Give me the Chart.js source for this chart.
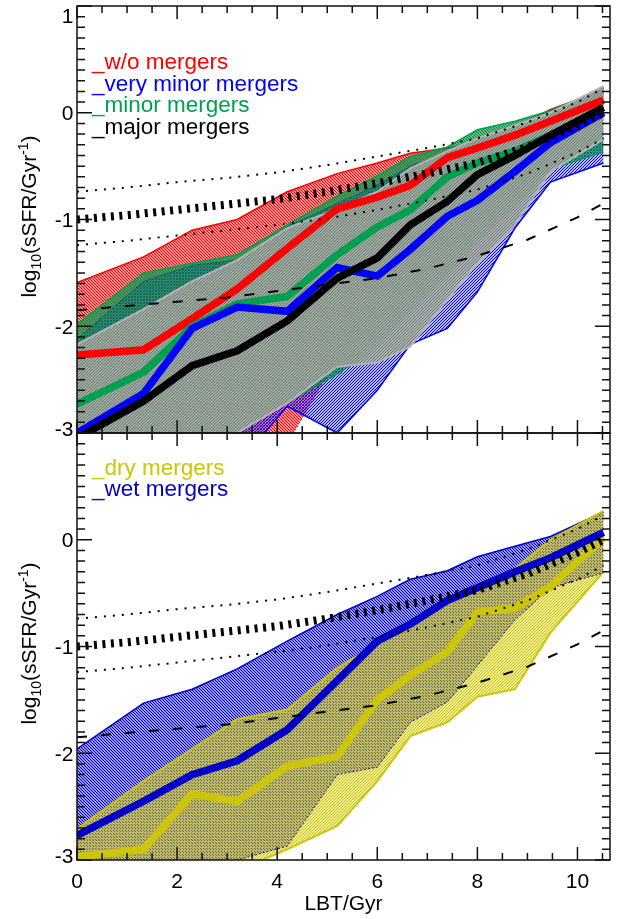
<!DOCTYPE html>
<html>
<head>
<meta charset="utf-8">
<title>sSFR vs lookback time</title>
<script src="https://cdn.jsdelivr.net/npm/chart.js@4.4.1/dist/chart.umd.min.js"></script>
<style>
  html, body { margin: 0; padding: 0; background: #fff; }
  #wrap { position: relative; width: 627px; height: 919px; }
  #wrap canvas { position: absolute; left: 0; top: 0; }
</style>
</head>
<body>
<div id="wrap">
  <canvas id="topChart" width="627" height="919"></canvas>
  <canvas id="bottomChart" width="627" height="919"></canvas>
</div>
<script>
// lookback time of the bins (Gyr)
const lbt = [0, 1.33, 2.3, 3.2, 4.2, 5.2, 6.0, 6.66, 7.4, 8.0, 8.75, 9.46, 10.52];

// main sequence reference curves (own grid)
const msLbt    = [0, 1, 2, 3, 4, 5, 6, 7, 8, 9, 10, 10.52];
const msUpper  = [-0.74, -0.70, -0.65, -0.61, -0.56, -0.49, -0.41, -0.33, -0.24, -0.09, 0.10, 0.23];
const msMedian = [-1.00, -0.96, -0.91, -0.86, -0.81, -0.74, -0.66, -0.57, -0.47, -0.32, -0.12, 0.00];
const msLower  = [-1.24, -1.20, -1.15, -1.10, -1.05, -0.99, -0.91, -0.82, -0.72, -0.57, -0.37, -0.24];
const msDashed = [-1.85, -1.81, -1.77, -1.73, -1.67, -1.61, -1.55, -1.46, -1.34, -1.19, -0.98, -0.85];

// top panel medians
const medNone  = [-2.27, -2.22, -1.93, -1.65, -1.27, -0.90, -0.79, -0.68, -0.42, -0.33, -0.21, -0.08, 0.12];
const medMinor = [-2.73, -2.43, -2.00, -1.79, -1.72, -1.33, -1.07, -0.91, -0.60, -0.47, -0.36, -0.21, 0.01];
const medVery  = [-3.00, -2.63, -2.02, -1.82, -1.86, -1.45, -1.53, -1.28, -0.97, -0.82, -0.55, -0.28, 0.00];
const medMajor = [-3.05, -2.70, -2.37, -2.23, -1.95, -1.55, -1.36, -1.05, -0.83, -0.58, -0.40, -0.21, 0.05];

// top panel envelopes
const upNone   = [-1.59, -1.35, -1.10, -1.00, -0.74, -0.57, -0.47, -0.38, -0.33, -0.28, -0.14, 0.03, 0.21];
const loNone   = [-3.5, -3.5, -3.5, -3.4, -3.1, -2.30, -1.66, -1.52, -1.06, -0.72, -0.40, -0.17, 0.00];
const upMinor  = [-1.98, -1.50, -1.41, -1.33, -1.05, -0.78, -0.59, -0.41, -0.32, -0.16, -0.08, 0.02, 0.23];
const loMinor  = [-3.5, -3.5, -3.5, -3.0, -2.72, -2.45, -2.20, -1.85, -1.53, -1.20, -0.88, -0.53, -0.37];
const upVery   = [-2.12, -1.58, -1.43, -1.38, -1.07, -0.85, -0.68, -0.50, -0.38, -0.24, -0.13, -0.02, 0.18];
const loVery   = [-3.5, -3.5, -3.5, -3.3, -2.75, -3.00, -2.60, -2.17, -2.02, -1.68, -1.08, -0.65, -0.47];
const upMajor  = [-2.17, -1.84, -1.58, -1.38, -1.08, -0.90, -0.74, -0.52, -0.36, -0.24, -0.12, 0.00, 0.25];
const loMajor  = [-3.5, -3.5, -3.5, -3.0, -2.72, -2.38, -2.34, -2.19, -1.75, -1.41, -1.05, -0.55, -0.25];

// bottom panel
const medWet = [-2.77, -2.45, -2.20, -2.07, -1.78, -1.32, -0.95, -0.79, -0.57, -0.45, -0.30, -0.17, 0.07];
const medDry = [-2.97, -2.90, -2.38, -2.45, -2.12, -2.03, -1.50, -1.27, -1.05, -0.68, -0.64, -0.44, 0.02];
const upWet  = [-1.96, -1.53, -1.40, -1.21, -0.95, -0.70, -0.53, -0.37, -0.29, -0.16, -0.06, 0.03, 0.26];
const loWet  = [-3.1, -3.1, -3.1, -3.0, -2.87, -2.20, -2.13, -1.71, -1.52, -1.18, -0.75, -0.45, -0.31];
const upDry  = [-2.71, -2.26, -1.96, -1.68, -1.59, -1.20, -0.98, -0.80, -0.60, -0.48, -0.27, 0.00, 0.27];
const loDry  = [-3.1, -3.1, -3.1, -3.1, -2.90, -2.68, -2.26, -1.84, -1.71, -1.47, -1.40, -0.87, -0.30];

// ticks
const xTicks = [0, 2, 4, 6, 8, 10];
const yTicksTop = [1, 0, -1, -2, -3];
const yTicksBottom = [0, -1, -2, -3];

const FONT = '21px "Liberation Sans", Arial, Helvetica, sans-serif';
const LEGEND_FONT = '22.5px "Liberation Sans", Arial, Helvetica, sans-serif';
const SMALL = '14px "Liberation Sans", Arial, Helvetica, sans-serif';

function pts(xs, ys) {
    return xs.map((x, i) => ({ x: x, y: ys[i] }));
}

// small tile with one diagonal line, used as hatch fill
function hatch(fg, bg, flip) {
    const c = document.createElement('canvas');
    c.width = 3; c.height = 3;
    const g = c.getContext('2d');
    g.fillStyle = bg;
    g.fillRect(0, 0, 3, 3);
    g.fillStyle = fg;
    for (let i = 0; i < 3; i++) g.fillRect(i, flip ? 2 - i : i, 1, 1);
    return g.createPattern(c, 'repeat');
}

function line(xs, ys, color, width, order, extra) {
    return Object.assign({
        data: pts(xs, ys),
        borderColor: color,
        borderWidth: width,
        pointRadius: 0,
        fill: false,
        tension: 0,
        clip: 0,
        order: order
    }, extra || {});
}

function refCurves() {
    return [
        line(msLbt, msUpper, '#000', 2, 0, { borderDash: [2, 7] }),
        line(msLbt, msMedian, '#000', 8, 1, { borderDash: [3, 5.5] }),
        line(msLbt, msLower, '#000', 2, 2, { borderDash: [2, 7] }),
        line(msLbt, msDashed, '#000', 2, 3, { borderDash: [10, 14] })
    ];
}

function drawYTitle(ctx, cx, cy) {
    const parts = [['log', FONT, 0], ['10', SMALL, 5], ['(sSFR/Gyr', FONT, 0], ['-1', SMALL, -8], [')', FONT, 0]];
    ctx.save();
    ctx.translate(cx, cy);
    ctx.rotate(-Math.PI / 2);
    let w = 0;
    parts.forEach(p => { ctx.font = p[1]; w += ctx.measureText(p[0]).width; });
    let x = -w / 2;
    ctx.textAlign = 'left';
    ctx.textBaseline = 'alphabetic';
    parts.forEach(p => {
        ctx.font = p[1];
        ctx.fillText(p[0], x, p[2]);
        x += ctx.measureText(p[0]).width;
    });
    ctx.restore();
}

// box, inward ticks, labels and legend text
const framePlugin = {
    id: 'frame',
    afterDraw(chart, args, opts) {
        const ctx = chart.ctx, a = chart.chartArea;
        const xs = chart.scales.x, ys = chart.scales.y;
        ctx.save();
        ctx.strokeStyle = '#111';
        ctx.lineWidth = 1.5;
        ctx.beginPath();
        for (let k = 0; k * 0.5 <= xs.max; k++) {
            const px = xs.getPixelForValue(k * 0.5);
            const len = (k % 4 === 0) ? 13 : 7;
            ctx.moveTo(px, a.bottom); ctx.lineTo(px, a.bottom - len);
            ctx.moveTo(px, a.top); ctx.lineTo(px, a.top + len);
        }
        for (let k = -30; k <= 10; k++) {
            const py = ys.getPixelForValue(k / 10);
            const len = (k % 10 === 0) ? 15 : 8;
            ctx.moveTo(a.left, py); ctx.lineTo(a.left + len, py);
            ctx.moveTo(a.right, py); ctx.lineTo(a.right - len, py);
        }
        ctx.stroke();
        ctx.strokeRect(a.left, a.top, a.right - a.left, a.bottom - a.top);

        ctx.fillStyle = '#000';
        ctx.font = FONT;
        ctx.textAlign = 'right';
        ctx.textBaseline = 'alphabetic';
        opts.yTicks.forEach(v => {
            let py = ys.getPixelForValue(v);
            py = Math.min(Math.max(py, a.top + 9), a.bottom - 5);
            ctx.fillText(String(v), a.left - 3.5, py + 7.5);
        });
        if (opts.xAxis) {
            ctx.textAlign = 'center';
            xTicks.forEach(v => ctx.fillText(String(v), xs.getPixelForValue(v), a.bottom + 28));
            ctx.fillText('LBT/Gyr', (a.left + a.right) / 2, a.bottom + 50);
        }
        drawYTitle(ctx, 36, (a.top + a.bottom) / 2 - 3);

        ctx.textAlign = 'left';
        ctx.font = LEGEND_FONT;
        opts.legend.forEach(item => {
            ctx.fillStyle = item[1];
            ctx.fillText(item[0], 92, a.top + item[2]);
        });
        ctx.restore();
    }
};

function makeChart(id, datasets, pad, frameOpts) {
    return new Chart(document.getElementById(id), {
        type: 'line',
        data: { datasets: datasets },
        options: {
            responsive: false,
            animation: false,
            events: [],
            layout: { padding: pad },
            scales: {
                x: { type: 'linear', min: 0, max: 10.65, display: false },
                y: { type: 'linear', min: -3, max: 1, display: false }
            },
            plugins: {
                legend: { display: false },
                tooltip: { enabled: false },
                frame: frameOpts
            }
        },
        plugins: [framePlugin]
    });
}

const RED = '#FF0000', BLUE = '#0000FF', GREEN = '#00A050', GRAYLINE = '#B4B4B4';
const WET = '#0000C8', DRY = '#CDC50A';

// Top panel: index matters for the fill targets (8, 10, 12, 14)
const topSets = refCurves().concat([
    line(lbt, medMajor, '#000', 7.5, 4),
    line(lbt, medVery, BLUE, 7.5, 5),
    line(lbt, medMinor, GREEN, 7.5, 6),
    line(lbt, medNone, RED, 7.5, 7),
    line(lbt, loMajor, GRAYLINE, 2, 8),
    line(lbt, upMajor, GRAYLINE, 2, 9, { fill: 8, backgroundColor: hatch('rgba(112,122,115,1)', 'rgba(168,176,170,0.9)', true) }),
    line(lbt, loMinor, GREEN, 1, 10),
    line(lbt, upMinor, GREEN, 1.5, 11, { fill: 10, backgroundColor: hatch('rgba(0,140,60,1)', 'rgba(0,140,60,0.6)', false) }),
    line(lbt, loVery, BLUE, 1.5, 12),
    line(lbt, upVery, BLUE, 1, 13, { fill: 12, backgroundColor: hatch('rgba(0,0,255,1)', 'rgba(60,60,255,0.35)', true) }),
    line(lbt, loNone, RED, 1, 14, { borderDash: [1.5, 2.5] }),
    line(lbt, upNone, RED, 1.5, 15, { fill: 14, backgroundColor: hatch('rgba(255,0,0,1)', 'rgba(255,40,40,0.5)', false) })
]);

// Bottom panel: fill targets 6 (wet) and 7 (dry)
const bottomSets = refCurves().concat([
    line(lbt, medWet, WET, 7.5, 4),
    line(lbt, medDry, DRY, 7.5, 5),
    line(lbt, loWet, '#1010A0', 1, 6, { borderDash: [2, 2] }),
    line(lbt, loDry, DRY, 2, 7),
    line(lbt, upDry, DRY, 2, 8, { fill: 7, backgroundColor: hatch('rgba(205,198,0,1)', 'rgba(215,210,40,0.45)', true) }),
    line(lbt, upWet, WET, 1.5, 9, { fill: 6, backgroundColor: hatch('rgba(0,0,210,1)', 'rgba(50,50,220,0.5)', false) })
]);

makeChart('topChart', topSets, { left: 77, right: 17, top: 6, bottom: 486 }, {
    yTicks: yTicksTop,
    xAxis: false,
    legend: [
        ['_w/o mergers', RED, 63],
        ['_very minor mergers', BLUE, 84.5],
        ['_minor mergers', GREEN, 106],
        ['_major mergers', '#000', 127.5]
    ]
});

makeChart('bottomChart', bottomSets, { left: 77, right: 17, top: 433, bottom: 59 }, {
    yTicks: yTicksBottom,
    xAxis: true,
    legend: [
        ['_dry mergers', DRY, 42],
        ['_wet mergers', WET, 63]
    ]
});
</script>
</body>
</html>
